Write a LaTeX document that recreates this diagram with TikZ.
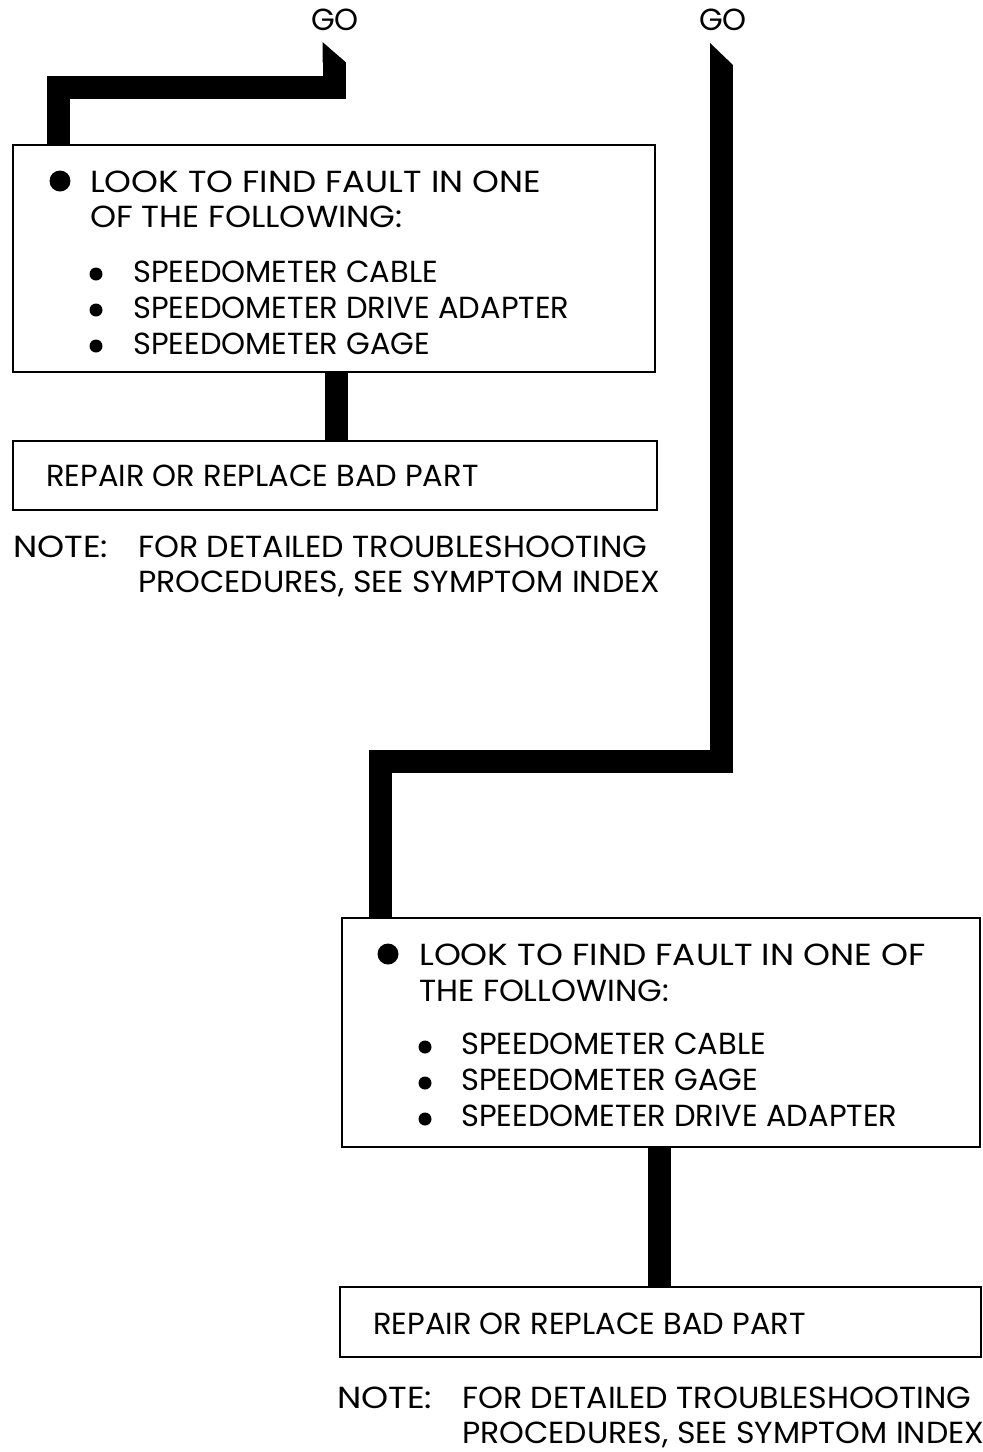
\documentclass[tikz,border=0pt]{standalone}
\usepackage{graphicx}
\usepackage{fontspec}
\setmainfont{Poppins}
\newcommand{\hs}[2]{\scalebox{#1}[1]{#2}}
\begin{document}
\begin{tikzpicture}[x=1pt,y=-1pt,
  box/.style={draw,line width=2.6pt,minimum width=#1,inner sep=0pt},
  flow/.style={line width=23pt,line join=miter},
  txt/.style={anchor=base west,inner sep=0pt,font=\fontsize{30.5}{31}\selectfont},
  gotxt/.style={anchor=base,inner sep=0pt,font=\fontsize{30.5}{31}\selectfont},
  bigdot/.style={circle,fill,inner sep=0pt,minimum size=21pt},
  smalldot/.style={circle,fill,inner sep=0pt,minimum size=13pt}]
\useasboundingbox (0,0) rectangle (983,1452);
% ---------- left flow ----------
\node[gotxt] (go1t) at (335,30) {GO};
\node[box=642pt,minimum height=227pt] (b1) at (334,258.5) {};
\node[box=644pt,minimum height=69pt] (b2) at (335,475.5) {};
\node[bigdot] (d1) at (60,181) {};
\node[txt] (l1a) at (90,192) {\hs{1.12}{LOOK TO FIND FAULT IN ONE}};
\node[txt] (l1b) at (90,227) {\hs{1.087}{OF THE FOLLOWING:}};
\node[smalldot] (s11) at (96,274) {};
\node[smalldot] (s12) at (96,310) {};
\node[smalldot] (s13) at (96,346) {};
\node[txt] (i11) at (133,282) {SPEEDOMETER CABLE};
\node[txt] (i12) at (133,318) {SPEEDOMETER DRIVE ADAPTER};
\node[txt] (i13) at (133,354) {SPEEDOMETER GAGE};
\node[txt] (r1) at (46,486) {REPAIR OR REPLACE BAD PART};
\node[txt] (n1a) at (13,557) {\hs{1.13}{NOTE:}};
\node[txt] (n1b) at (138,557) {\hs{1.04}{FOR DETAILED TROUBLESHOOTING}};
\node[txt] (n1c) at (138,592) {\hs{1.034}{PROCEDURES, SEE SYMPTOM INDEX}};
\coordinate (go1) at (334,62);
\coordinate (k1) at (58.5,87.5);
\fill (322.5,42) -- (345.5,62) -- (322.5,62) -- cycle;
\draw[flow] (go1) |- (k1) -- (k1 |- b1.north);
\coordinate (c12) at (336,0);
\draw[flow] (b1.south -| c12) -- (b2.north -| c12);
% ---------- right flow ----------
\node[gotxt] (go2t) at (723,30) {GO};
\node[box=638pt,minimum height=229pt] (b3) at (661,1032.5) {};
\node[box=641pt,minimum height=70pt] (b4) at (660.5,1322) {};
\node[bigdot] (d2) at (388,954) {};
\node[txt] (l2a) at (419,965) {\hs{1.125}{LOOK TO FIND FAULT IN ONE OF}};
\node[txt] (l2b) at (419,1001) {\hs{1.04}{THE FOLLOWING:}};
\node[smalldot] (s21) at (425,1047) {};
\node[smalldot] (s22) at (425,1083) {};
\node[smalldot] (s23) at (425,1119) {};
\node[txt] (i21) at (461,1054) {SPEEDOMETER CABLE};
\node[txt] (i22) at (461,1090) {SPEEDOMETER GAGE};
\node[txt] (i23) at (461,1126) {SPEEDOMETER DRIVE ADAPTER};
\node[txt] (r2) at (373,1334) {REPAIR OR REPLACE BAD PART};
\node[txt] (n2a) at (337,1408) {\hs{1.13}{NOTE:}};
\node[txt] (n2b) at (462,1408) {\hs{1.04}{FOR DETAILED TROUBLESHOOTING}};
\node[txt] (n2c) at (462,1443) {\hs{1.034}{PROCEDURES, SEE SYMPTOM INDEX}};
\coordinate (go2) at (721.5,65);
\coordinate (k2) at (380.5,761.5);
\fill (710,43) -- (733,65) -- (710,65) -- cycle;
\draw[flow] (go2) |- (k2) -- (k2 |- b3.north);
\coordinate (c34) at (659,0);
\draw[flow] (b3.south -| c34) -- (b4.north -| c34);
\end{tikzpicture}
\end{document}
